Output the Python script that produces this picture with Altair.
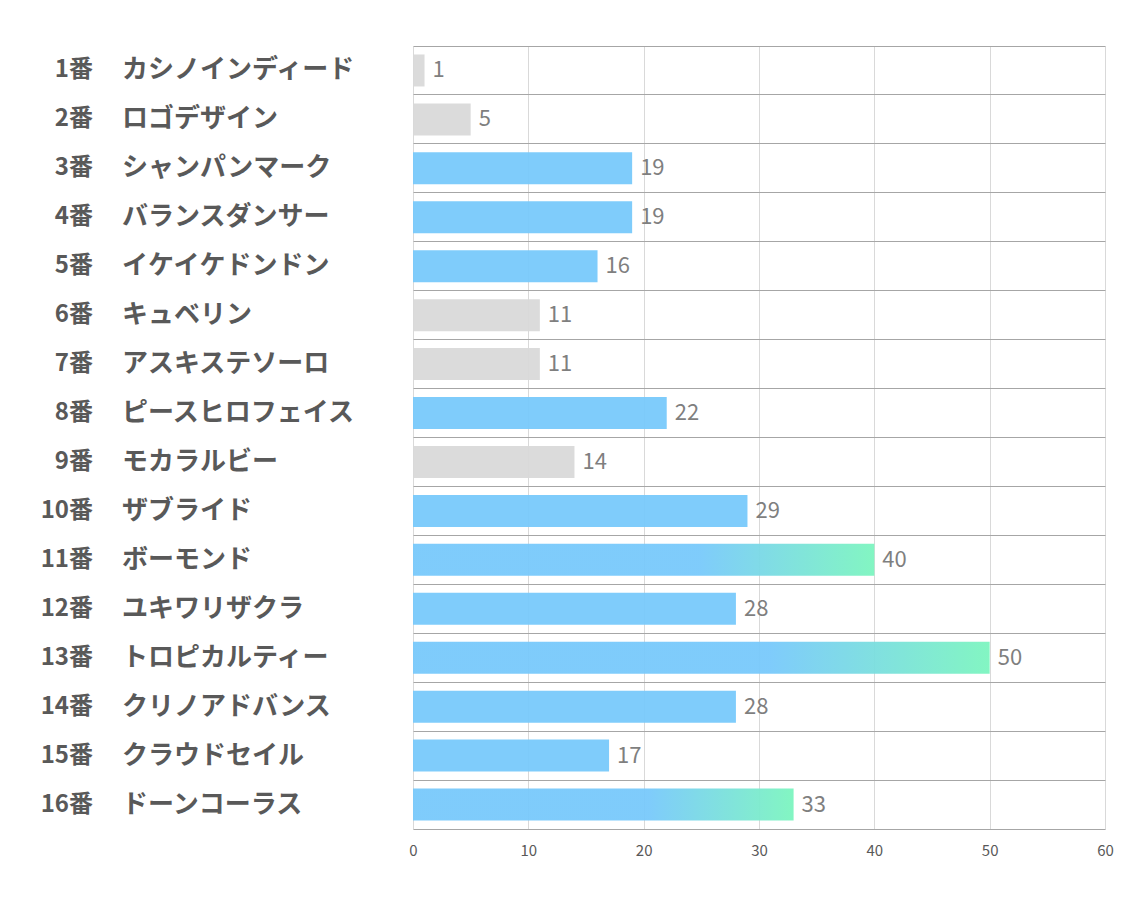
import altair as alt
import pandas as pd

nums = list(range(1, 17))
names = ["カシノインディード", "ロゴデザイン", "シャンパンマーク", "バランスダンサー",
         "イケイケドンドン", "キュベリン", "アスキステソーロ", "ピースヒロフェイス",
         "モカラルビー", "ザブライド", "ボーモンド", "ユキワリザクラ",
         "トロピカルティー", "クリノアドバンス", "クラウドセイル", "ドーンコーラス"]
values = [1, 5, 19, 19, 16, 11, 11, 22, 14, 29, 40, 28, 50, 28, 17, 33]
kinds = ["gray", "gray", "blue", "blue", "blue", "gray", "gray", "blue",
         "gray", "blue", "grad", "blue", "grad", "blue", "blue", "grad"]

df = pd.DataFrame({
    "num": nums,
    "numlabel": [f"{n}番" for n in nums],
    "name": names,
    "value": values,
    "kind": kinds,
})

order = nums
FONT = "Noto Sans CJK JP"

y = alt.Y("num:O", sort=order,
          scale=alt.Scale(paddingInner=0, paddingOuter=0),
          axis=alt.Axis(title=None, labels=False, ticks=False, domain=False,
                        grid=True, gridColor="#A6A6A6", gridWidth=1, bandPosition=0))
x = alt.X("value:Q", scale=alt.Scale(domain=[0, 60], nice=False),
          axis=alt.Axis(title=None, values=[0, 10, 20, 30, 40, 50, 60], ticks=False,
                        grid=True, gridColor="#D9D9D9", domainColor="#A6A6A6",
                        labelFont=FONT, labelFontSize=15, labelColor="#595959",
                        labelPadding=14, labelFlush=False, zindex=0))

base = alt.Chart(df)

BLUE = "#78C9FB"
gray = base.transform_filter(alt.datum.kind == "gray").mark_bar(
    size=32, color="#D9D9D9", opacity=0.95).encode(x=x, y=y)
blue = base.transform_filter(alt.datum.kind == "blue").mark_bar(
    size=32, color=BLUE, opacity=0.95).encode(x=x, y=y)
grad = base.transform_filter(alt.datum.kind == "grad").mark_bar(
    size=32, opacity=0.95,
    color=alt.LinearGradient(gradient="linear", x1=0, x2=1, y1=0, y2=0,
                             stops=[alt.GradientStop(offset=0, color=BLUE),
                                    alt.GradientStop(offset=0.62, color=BLUE),
                                    alt.GradientStop(offset=1, color="#7CF5BF")])
).encode(x=x, y=y)

vals = base.mark_text(align="left", baseline="middle", dx=8, font=FONT,
                      fontSize=22, color="#7F7F7F").encode(x=x, y=y, text="value:Q")

numtxt = base.mark_text(align="right", baseline="middle", font=FONT, fontSize=24,
                        fontWeight="bold", color="#595959").encode(
    x=alt.value(-320), y=y, text="numlabel:N")
nametxt = base.mark_text(align="left", baseline="middle", font=FONT, fontSize=26,
                         fontWeight="bold", color="#595959").encode(
    x=alt.value(-291), y=y, text="name:N")

chart = alt.layer(gray, blue, grad, vals, numtxt, nametxt).properties(
    width=692, height=783,
    autosize=alt.AutoSizeParams(type="none"),
    padding={"left": 405, "top": 38, "right": 21, "bottom": 70},
).configure_view(stroke=None)

chart.save("out.html", embed_options={"renderer": "svg", "actions": False})
